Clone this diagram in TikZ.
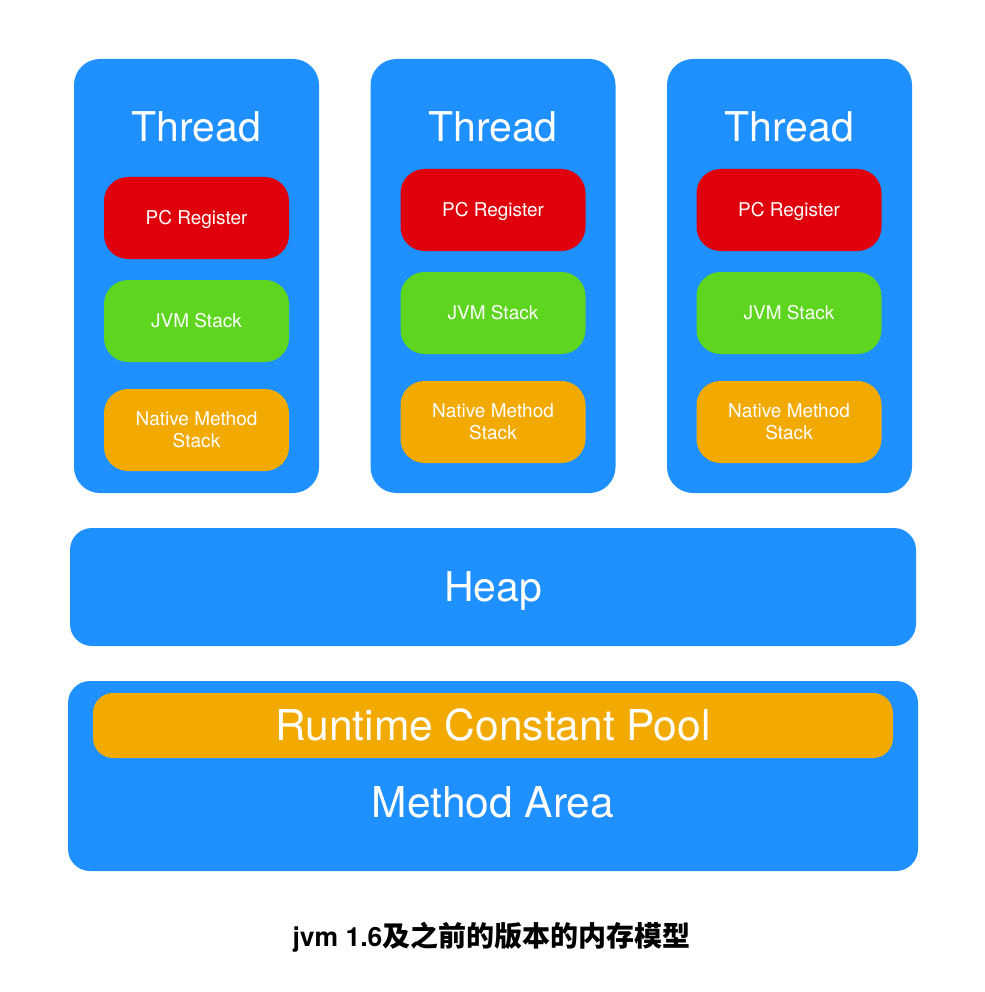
\documentclass[tikz,border=0pt]{standalone}
\usepackage{fontspec}
\setmainfont{TeX Gyre Heros}
\newfontfamily\cjk{Noto Sans CJK SC}
\definecolor{jvmblue}{RGB}{30,144,255}
\definecolor{pcred}{RGB}{224,0,11}
\definecolor{stackgreen}{RGB}{94,213,30}
\definecolor{nativeorange}{RGB}{242,170,0}
\begin{document}
\begin{tikzpicture}[x=1pt, y=-1pt,
		thread/.style={fill=jvmblue, rounded corners=26pt, minimum width=245pt, minimum height=434pt, inner sep=0pt},
		part/.style={rounded corners=24pt, minimum width=185pt, minimum height=82pt, inner sep=0pt,
			text=white, align=center, font=\fontsize{19}{22}\selectfont, text height=13.7pt, text depth=0pt},
		native/.style={part, fill=nativeorange, text height=35.7pt},
		area/.style={fill=jvmblue, rounded corners=22pt, inner sep=0pt, text=white,
			font=\fontsize{41}{49}\selectfont, text height=29.5pt, text depth=0pt},
		biglabel/.style={anchor=base, text=white, inner sep=0pt, font=\fontsize{41}{49}\selectfont}]
		\useasboundingbox (0,0) rectangle (984,992);

		% Draw the three threads
		\node[thread] (thread1) at (196.5,276) {};
		\node[thread] (thread2) at (493,276) {};
		\node[thread] (thread3) at (789.5,276) {};

		\node[biglabel] (label1) at (196.5,141.5) {Thread};
		\node[biglabel] (label2) at (493,141.5) {Thread};
		\node[biglabel] (label3) at (789.5,141.5) {Thread};

		% Draw the parts of each thread
		\node[part, fill=pcred] (pc1) at (196.5,218) {PC Register};
		\node[part, fill=stackgreen] (jvm1) at (196.5,321) {JVM Stack};
		\node[native] (native1) at (196.5,430) {Native Method\\Stack};

		\node[part, fill=pcred] (pc2) at (493,210) {PC Register};
		\node[part, fill=stackgreen] (jvm2) at (493,313) {JVM Stack};
		\node[native] (native2) at (493,422) {Native Method\\Stack};

		\node[part, fill=pcred] (pc3) at (789,210) {PC Register};
		\node[part, fill=stackgreen] (jvm3) at (789,313) {JVM Stack};
		\node[native] (native3) at (789,422) {Native Method\\Stack};

		% Draw the heap
		\node[area, minimum width=846pt, minimum height=118pt] (heap) at (493,587) {Heap};

		% Draw the method area with the constant pool inside
		\node[area, minimum width=850pt, minimum height=190pt] (method) at (493,776) {};
		\node[area, fill=nativeorange, rounded corners=20pt, minimum width=800pt, minimum height=65pt,
			font=\fontsize{42.5}{50}\selectfont, text height=30.5pt] (pool) at (493,725.5) {Runtime Constant Pool};
		\node[biglabel, font=\fontsize{42.5}{50}\selectfont] (methodlabel) at (493,817) {Method Area};

		% Caption
		\node[anchor=base, inner sep=0pt] (caption) at (491.5,946)
			{\fontsize{26.5}{32}\selectfont\bfseries jvm 1.6{\cjk\fontsize{28}{34}\selectfont 及之前的版本的内存模型}};

	\end{tikzpicture}
\end{document}
